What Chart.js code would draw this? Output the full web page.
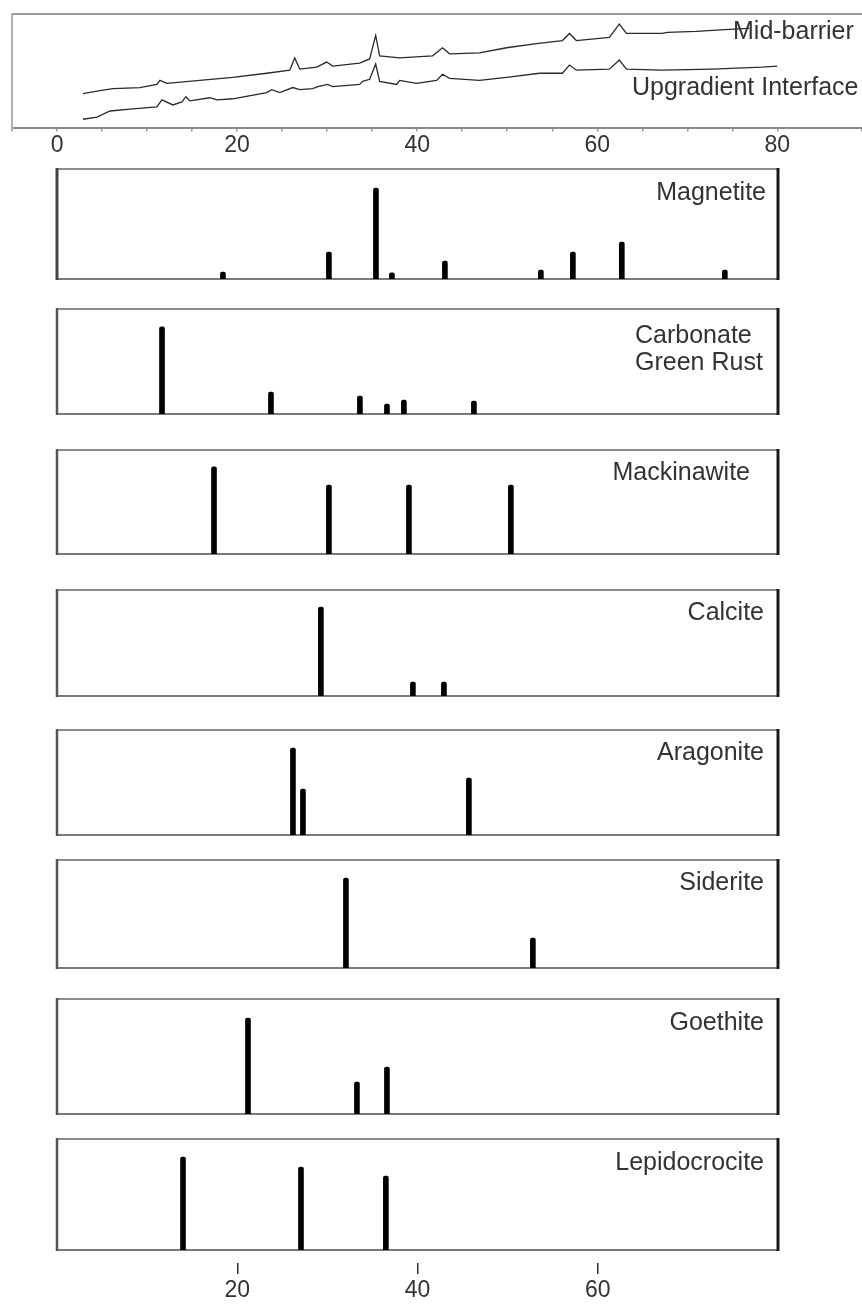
<!DOCTYPE html>
<html><head><meta charset="utf-8">
<script src="https://cdn.jsdelivr.net/npm/chart.js@4.4.0/dist/chart.umd.min.js"></script>
<style>
html,body{margin:0;padding:0;background:#fff;}
#wrap{position:relative;width:862px;height:1307px;overflow:hidden;background:#fff;}
canvas{position:absolute;}
</style></head><body><div id="wrap"></div>
<script>
// ---------------- DATA ----------------
const topTickLabels = [0, 20, 40, 60, 80];
const bottomTickLabels = [20, 40, 60];
const seriesNames = ['Mid-barrier', 'Upgradient Interface'];

const midBarrierX = [2.88,4.77,6.21,9.21,11.09,11.43,12.20,15.86,19.52,23.29,25.85,26.40,26.96,28.84,29.95,30.62,33.61,34.72,35.39,35.83,38.05,41.71,42.82,43.59,46.92,49.92,53.24,56.13,56.91,57.68,61.34,62.45,63.23,67.22,67.78,70.99,74.65,76.87];
const midBarrierY = [30.4,33.0,34.8,35.7,38.4,42.0,39.3,42.0,44.6,48.2,50.9,61.6,51.8,53.6,58.0,54.5,57.1,60.7,81.3,63.4,61.6,63.4,70.5,65.2,66.1,70.5,74.1,76.8,83.0,76.8,79.5,91.1,83.0,83.0,83.9,84.8,86.6,87.5];

const upgradientX = [2.88,4.44,5.88,8.43,11.09,11.65,12.87,13.87,14.31,14.75,16.97,17.75,19.52,23.29,23.85,24.74,26.18,26.96,28.40,28.95,30.06,30.62,33.61,33.94,34.72,35.39,35.83,37.72,38.05,39.93,42.15,42.82,43.59,46.92,49.92,53.58,56.13,56.91,57.68,61.34,62.45,63.23,67.22,72.77,78.31,79.98];
const upgradientY = [8.0,9.8,15.2,17.0,18.8,25.0,20.5,23.2,27.7,24.1,26.8,25.0,25.9,31.3,33.9,31.3,35.7,33.9,34.8,36.6,38.4,36.6,38.4,41.1,42.9,56.3,41.1,38.4,42.0,39.3,42.0,47.3,43.8,42.0,44.6,48.2,48.2,55.4,50.9,51.8,59.8,51.8,50.9,51.8,53.6,54.5];

const mineralNames = ['Magnetite', 'Carbonate\nGreen Rust', 'Mackinawite', 'Calcite', 'Aragonite', 'Siderite', 'Goethite', 'Lepidocrocite'];

const magnetitePeaks = [18.41, 30.17, 35.39, 37.16, 43.04, 53.69, 57.24, 62.67, 74.10];
const magnetiteIntensity = [6.4, 24.5, 82.7, 5.5, 16.4, 8.2, 24.5, 33.6, 8.2];

const greenRustPeaks = [11.65, 23.74, 33.61, 36.61, 38.49, 46.26];
const greenRustIntensity = [83.0, 20.8, 17.0, 9.4, 13.2, 12.3];

const mackinawitePeaks = [17.42, 30.17, 39.05, 50.36];
const mackinawiteIntensity = [83.7, 66.3, 66.3, 66.3];

const calcitePeaks = [29.28, 39.49, 42.93];
const calciteIntensity = [84.0, 13.2, 13.2];

const aragonitePeaks = [26.18, 27.29, 45.70];
const aragoniteIntensity = [82.9, 43.8, 54.3];

const sideritePeaks = [32.06, 52.80];
const sideriteIntensity = [83.3, 27.8];

const goethitePeaks = [21.19, 33.28, 36.61];
const goethiteIntensity = [83.5, 27.8, 40.9];

const lepidocrocitePeaks = [13.98, 27.07, 36.49];
const lepidocrociteIntensity = [83.8, 74.8, 66.7];

const peakSets = [
  [magnetitePeaks, magnetiteIntensity],
  [greenRustPeaks, greenRustIntensity],
  [mackinawitePeaks, mackinawiteIntensity],
  [calcitePeaks, calciteIntensity],
  [aragonitePeaks, aragoniteIntensity],
  [sideritePeaks, sideriteIntensity],
  [goethitePeaks, goethiteIntensity],
  [lepidocrocitePeaks, lepidocrociteIntensity]
];

// ---------------- LAYOUT / STYLE ----------------
const FONT = "'Liberation Sans', Arial, Helvetica, sans-serif";
const TEXT = '#333';
Chart.defaults.font.family = FONT;
Chart.defaults.color = TEXT;

const panelLeft = 57, panelRight = 778;
const panelBoxes = [
  {top:169, bottom:279, lx:766, ly:193, align:'right'},
  {top:309, bottom:414, lx:635, ly:336, align:'left', lh:27},
  {top:450, bottom:554, lx:750, ly:473, align:'right'},
  {top:590, bottom:696, lx:764, ly:613, align:'right'},
  {top:730, bottom:835, lx:764, ly:753, align:'right'},
  {top:860, bottom:968, lx:764, ly:883, align:'right'},
  {top:999, bottom:1114, lx:764, ly:1023, align:'right'},
  {top:1139, bottom:1250, lx:764, ly:1163, align:'right'}
];

const wrap = document.getElementById('wrap');
function makeCanvas(l, t, w, h){
  const c = document.createElement('canvas');
  c.width = w; c.height = h;
  c.style.left = l + 'px'; c.style.top = t + 'px';
  c.style.width = w + 'px'; c.style.height = h + 'px';
  wrap.appendChild(c);
  return c;
}

const framePlugin = {
  id: 'frame',
  beforeDatasetsDraw(chart, args, o){
    if (!o || !o.on) return;
    const a = chart.chartArea, ctx = chart.ctx;
    ctx.save();
    ctx.lineCap = 'butt';
    if (o.top){ ctx.strokeStyle = o.top[0]; ctx.lineWidth = o.top[1];
      ctx.beginPath(); ctx.moveTo(a.left, a.top); ctx.lineTo(a.right, a.top); ctx.stroke(); }
    if (o.bottom){ ctx.strokeStyle = o.bottom[0]; ctx.lineWidth = o.bottom[1];
      ctx.beginPath(); ctx.moveTo(a.left, a.bottom); ctx.lineTo(a.right, a.bottom); ctx.stroke(); }
    if (o.left){ ctx.strokeStyle = o.left[0]; ctx.lineWidth = o.left[1];
      ctx.beginPath(); ctx.moveTo(a.left, a.top - 1); ctx.lineTo(a.left, a.bottom + 1); ctx.stroke(); }
    if (o.right){ ctx.strokeStyle = o.right[0]; ctx.lineWidth = o.right[1];
      ctx.beginPath(); ctx.moveTo(a.right, a.top - 1); ctx.lineTo(a.right, a.bottom + 1); ctx.stroke(); }
    ctx.restore();
  }
};
const textPlugin = {
  id: 'texts',
  afterDraw(chart, args, o){
    if (!o || !o.items) return;
    const ctx = chart.ctx;
    ctx.save();
    o.items.forEach(it => {
      ctx.font = (it.size || 24) + 'px ' + FONT;
      ctx.fillStyle = it.color || TEXT;
      ctx.textAlign = it.align || 'left';
      ctx.textBaseline = 'middle';
      const lines = String(it.text).split('\n');
      lines.forEach((ln, i) => ctx.fillText(ln, it.x, it.y + i * (it.lh || 26)));
    });
    ctx.restore();
  }
};
Chart.register(framePlugin, textPlugin);

// ---------- top panel (diffractograms) ----------
(function(){
  const cTop = 0, cH = 159;
  const c = makeCanvas(0, cTop, 862, cH);
  new Chart(c, {
    type: 'scatter',
    data: {
      datasets: [
        {label: seriesNames[0], data: midBarrierX.map((x,i)=>({x, y: midBarrierY[i]})),
         showLine: true, borderColor: '#2a2a2a', borderWidth: 1.3, pointRadius: 0, tension: 0},
        {label: seriesNames[1], data: upgradientX.map((x,i)=>({x, y: upgradientY[i]})),
         showLine: true, borderColor: '#2a2a2a', borderWidth: 1.3, pointRadius: 0, tension: 0}
      ]
    },
    options: {
      responsive: false, animation: false, clip: false,
      layout: {padding: {left: 12, right: 0, top: 14, bottom: 0}},
      plugins: {
        legend: {display: false}, tooltip: {enabled: false},
        frame: {on: true, top: ['#9a9a9a', 2], left: ['#b0b0b0', 2]},
        texts: {items: [
          {text: seriesNames[0], x: 733, y: 32, size: 25},
          {text: seriesNames[1], x: 632, y: 88, size: 25}
        ]}
      },
      scales: {
        x: {type: 'linear', min: -5, max: 89.4,
            grid: {display: true, drawOnChartArea: false, tickLength: 3, color: '#999', lineWidth: 1.5},
            border: {display: true, color: '#8a8a8a', width: 2},
            ticks: {stepSize: 5, autoSkip: false, maxRotation: 0, padding: 0,
                    font: {size: 23}, color: TEXT,
                    callback: v => topTickLabels.includes(v) ? String(v) : ''}},
        y: {min: 0, max: 100, display: false}
      }
    }
  });
})();

// ---------- stick panels ----------
const P = 4;
panelBoxes.forEach((b, k) => {
  const w = panelRight - panelLeft, h = b.bottom - b.top;
  const c = makeCanvas(panelLeft - P, b.top - P, w + 2*P, h + 2*P);
  const [pos, ints] = peakSets[k];
  const isFirst = k === 0;
  new Chart(c, {
    type: 'bar',
    data: {datasets: [{
      data: pos.map((p,i)=>({x: p, y: ints[i]})),
      backgroundColor: '#000', borderWidth: 0, barThickness: 5,
      borderRadius: {topLeft: 2, topRight: 2, bottomLeft: 0, bottomRight: 0}, borderSkipped: 'bottom'
    }]},
    options: {
      responsive: false, animation: false,
      layout: {padding: P},
      plugins: {
        legend: {display: false}, tooltip: {enabled: false},
        frame: {on: true,
          top: ['#8c8c8c', 2], bottom: ['#7a7a7a', 2],
          left: [isFirst ? '#444' : '#555', isFirst ? 3 : 2.5], right: ['#1a1a1a', 3]},
        texts: {items: [{
          text: mineralNames[k],
          x: b.lx - (panelLeft - P), y: b.ly - (b.top - P),
          align: b.align, size: 25, lh: b.lh || 26
        }]}
      },
      scales: {
        x: {type: 'linear', min: 0, max: 80, display: false, offset: false},
        y: {min: 0, max: 100, display: false}
      }
    }
  });
});

// ---------- bottom axis ----------
(function(){
  const top = 1222, h = 82;
  const c = makeCanvas(0, top, 862, h);
  new Chart(c, {
    type: 'scatter',
    data: {datasets: [{data: []}]},
    options: {
      responsive: false, animation: false,
      layout: {padding: {left: panelLeft, right: 862 - panelRight, top: 0, bottom: 0}},
      plugins: {legend: {display: false}, tooltip: {enabled: false}},
      scales: {
        x: {type: 'linear', min: 0, max: 80,
            afterBuildTicks: s => { s.ticks = bottomTickLabels.map(v => ({value: v})); },
            grid: {display: true, drawOnChartArea: false, tickLength: 11, color: '#333', lineWidth: 1.5},
            border: {display: false},
            ticks: {autoSkip: false, maxRotation: 0, padding: 3, font: {size: 23}, color: TEXT}},
        y: {min: 0, max: 1, display: false}
      }
    }
  });
})();
</script>
</body></html>
